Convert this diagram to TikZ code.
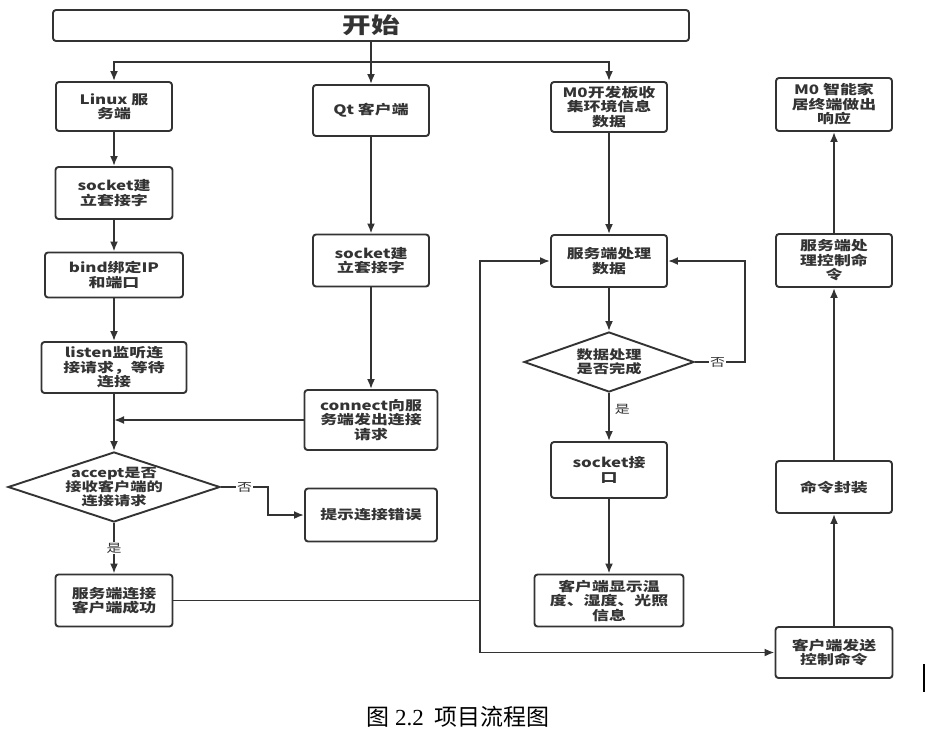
\documentclass[tikz,border=0pt]{standalone}
\usepackage{fontspec}
\setmainfont{Liberation Serif}
\newfontfamily\cjk[FakeStretch=1.3]{Noto Sans CJK SC}
\newfontfamily\capcjk{Noto Sans CJK SC}
\usetikzlibrary{shapes.geometric,arrows.meta}
\definecolor{ink}{HTML}{333333}
\begin{document}
\begin{tikzpicture}[x=1pt,y=-1pt]
        \tikzstyle{block} = [rectangle, rounded corners=3pt, draw=ink, line width=1.9pt, text=ink, align=center, inner sep=0pt, font=\cjk\bfseries\fontsize{13}{14.5}\selectfont]
        \tikzstyle{decision} = [diamond, draw=ink, line width=1.9pt, inner sep=0pt, aspect=3]
        \tikzstyle{dtext} = [text=ink, align=center, font=\cjk\bfseries\fontsize{12.5}{14}\selectfont]
        \tikzstyle{line} = [-{Latex[length=10pt,width=8pt]},draw=ink,line width=1.9pt]
        \tikzstyle{noarrow} = [draw=ink,line width=1.9pt]
        \tikzstyle{tag} = [fill=white, inner sep=1pt, text=ink, font=\cjk\fontsize{11.5}{11.5}\selectfont]
        \useasboundingbox (0,0) rectangle (925,734);
        \node[block, minimum width=636pt, minimum height=31pt, font=\cjk\bfseries\fontsize{22}{22}\selectfont] (start) at (371,25.5) {开始};
        \node[block, minimum width=116pt, minimum height=49pt] (linux) at (114,106.5) {Linux 服\\务端};
        \node[block, minimum width=116pt, minimum height=51pt] (qt) at (371,110.5) {Qt 客户端};
        \node[block, minimum width=116pt, minimum height=50pt] (m0) at (609,107) {M0开发板收\\集环境信息\\数据};
        \node[block, minimum width=117pt, minimum height=52pt] (sock1) at (114,193) {socket建\\立套接字};
        \node[block, minimum width=138pt, minimum height=45pt] (bind) at (114,275) {bind绑定IP\\和端口};
        \node[block, minimum width=145pt, minimum height=51pt] (listen) at (114,367.5) {listen监听连\\接请求，等待\\连接};
        \node[block, minimum width=116pt, minimum height=52pt] (sock2) at (371,260.5) {socket建\\立套接字};
        \node[block, minimum width=133pt, minimum height=60pt] (connect) at (371,420) {connect向服\\务端发出连接\\请求};
        \node[decision, minimum width=212pt, minimum height=70pt, label={[dtext]center:{accept是否\\接收客户端的\\连接请求}}] (accept) at (114,487) {};
        \node[block, minimum width=132pt, minimum height=53pt] (err) at (371,515) {提示连接错误};
        \node[block, minimum width=117pt, minimum height=52pt] (svrok) at (114,600.5) {服务端连接\\客户端成功};
        \node[block, minimum width=116pt, minimum height=52pt] (proc) at (609,261) {服务端处理\\数据};
        \node[decision, minimum width=170pt, minimum height=60pt, label={[dtext]center:{数据处理\\是否完成}}] (done) at (609,362) {};
        \node[block, minimum width=116pt, minimum height=56pt] (sockif) at (609,470) {socket接\\口};
        \node[block, minimum width=149pt, minimum height=52pt] (show) at (609,600.5) {客户端显示温\\度、湿度、光照\\信息};
        \node[block, minimum width=117pt, minimum height=51pt] (send) at (834,652.5) {客户端发送\\控制命令};
        \node[block, minimum width=116pt, minimum height=52pt] (pack) at (834,487) {命令封装};
        \node[block, minimum width=116pt, minimum height=53pt] (ctrl) at (834,260.5) {服务端处\\理控制命\\令};
        \node[block, minimum width=116pt, minimum height=53pt] (resp) at (834,104.5) {M0 智能家\\居终端做出\\响应};
        \node[text=black, font=\capcjk\fontsize{23}{23}\selectfont] (caption) at (458,717) {图 {\rmfamily 2.2}\ \ 项目流程图};
        \coordinate (split) at (371,62);
        \coordinate (bendno) at (268,487);
        \coordinate (hub) at (480,600.5);
        \coordinate (bendloop) at (745,362);
        \draw[line] (start.south) -- (qt.north);
        \draw[line] (split) -| (linux.north);
        \draw[line] (split) -| (m0.north);
        \draw[line] (linux) -- (sock1);
        \draw[line] (sock1) -- (bind);
        \draw[line] (bind) -- (listen);
        \draw[line] (listen) -- (accept);
        \draw[line] (qt) -- (sock2);
        \draw[line] (sock2) -- (connect);
        \draw[line] (connect.west) -- (listen.south |- connect.west);
        \draw[line] (accept.east) -- node[tag] {否} (bendno) |- (err.west);
        \draw[line] (accept) -- node[tag] {是} (svrok);
        \draw[noarrow] (svrok.east) -- (hub);
        \draw[line] (hub) |- (proc.west);
        \draw[line] (hub) |- (send.west);
        \draw[line] (m0) -- (proc);
        \draw[line] (proc) -- (done);
        \draw[line] (done.east) -- node[tag, pos=0.45] {否} (bendloop) |- (proc.east);
        \draw[line] (done) -- node[tag, pos=0.35, right=4pt, fill=none] {是} (sockif);
        \draw[line] (sockif) -- (show);
        \draw[line] (send) -- (pack);
        \draw[line] (pack) -- (ctrl);
        \draw[line] (ctrl) -- (resp);
        %\draw cursor mark at the right edge
        \draw[line width=1.5pt] (924,664) -- (924,692);
    \end{tikzpicture}
\end{document}
